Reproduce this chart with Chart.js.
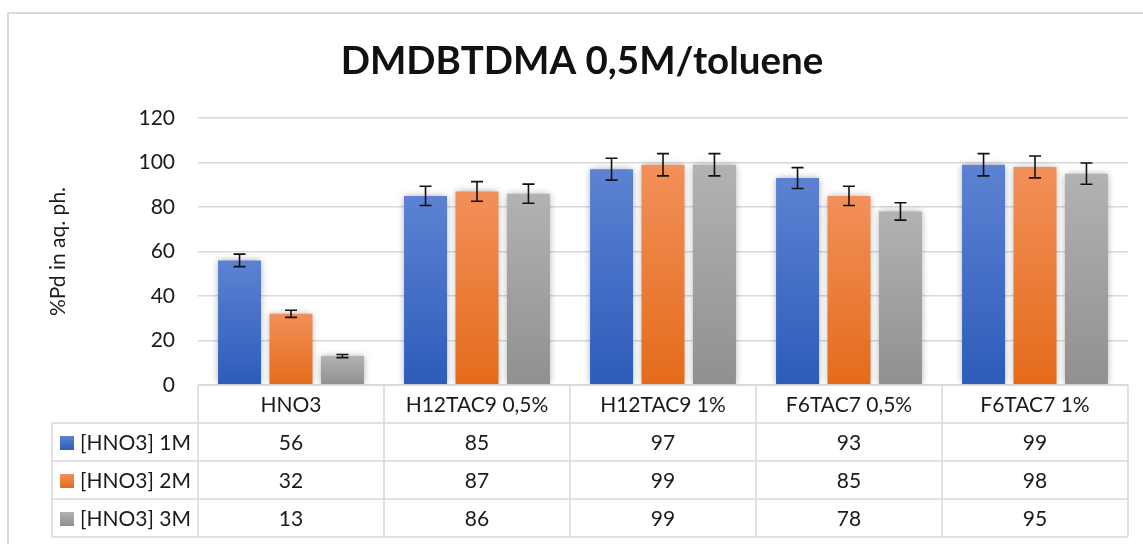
<!DOCTYPE html>
<html>
<head>
<meta charset="utf-8">
<title>DMDBTDMA 0,5M/toluene</title>
<script src="https://cdn.jsdelivr.net/npm/chart.js"></script>
<style>
  html, body { margin: 0; padding: 0; background: #fff; }
  .chart-box { position: relative; width: 1143px; height: 544px; }
</style>
</head>
<body>
<div class="chart-box"><canvas id="chart"></canvas></div>
<script>
// categories, series and values (table below the plot shows the same numbers)
const categories = ['HNO3', 'H12TAC9 0,5%', 'H12TAC9 1%', 'F6TAC7 0,5%', 'F6TAC7 1%'];
const seriesNames = ['[HNO3] 1M', '[HNO3] 2M', '[HNO3] 3M'];
const pd1M = [56, 85, 97, 93, 99];
const pd2M = [32, 87, 99, 85, 98];
const pd3M = [13, 86, 99, 78, 95];
// +/- error for each bar
const err1M = [2.8, 4.3, 4.9, 4.7, 5.0];
const err2M = [1.6, 4.4, 5.0, 4.3, 4.9];
const err3M = [0.7, 4.3, 5.0, 3.9, 4.8];
const yTicks = [0, 20, 40, 60, 80, 100, 120];

const FONT = 'Lato, "Open Sans", sans-serif';
const TEXT = '#1a1a1a';
const GRID = '#d9d9d9';
// top / bottom colours of each series' gradient
const fills = [
  ['#5d82d2', '#2c5cb9'],
  ['#f2905a', '#e46b1a'],
  ['#b2b2b2', '#909090']
];

function barGradient(idx) {
  return (c) => {
    const chart = c.chart;
    if (!chart.chartArea || c.raw === undefined) return fills[idx][1];
    const y = chart.scales.y;
    const top = y.getPixelForValue(c.raw);
    const bottom = y.getPixelForValue(0);
    if (!isFinite(top) || !isFinite(bottom) || top === bottom) return fills[idx][1];
    const g = chart.ctx.createLinearGradient(0, top, 0, bottom);
    g.addColorStop(0, fills[idx][0]);
    g.addColorStop(1, fills[idx][1]);
    return g;
  };
}

// outer frame + title
const framePlugin = {
  id: 'frame',
  beforeDraw(chart) {
    const ctx = chart.ctx;
    ctx.save();
    ctx.strokeStyle = GRID;
    ctx.lineWidth = 2;
    ctx.strokeRect(8, 13, 1160, 600);
    ctx.fillStyle = '#111';
    ctx.font = 'bold 38.5px ' + FONT;
    ctx.textAlign = 'center';
    ctx.textBaseline = 'alphabetic';
    ctx.fillText('DMDBTDMA 0,5M/toluene', 582, 74);
    ctx.restore();
  }
};

// soft shadow around the bars
const shadowPlugin = {
  id: 'barShadow',
  beforeDatasetsDraw(chart) {
    const ctx = chart.ctx;
    ctx.save();
    ctx.shadowColor = 'rgba(0,0,0,0.35)';
    ctx.shadowBlur = 7;
    ctx.shadowOffsetX = 0;
    ctx.shadowOffsetY = 0;
  },
  afterDatasetsDraw(chart) {
    chart.ctx.restore();
  }
};

const errors = [err1M, err2M, err3M];
const errorBarPlugin = {
  id: 'errorBars',
  afterDatasetsDraw(chart) {
    const ctx = chart.ctx;
    const y = chart.scales.y;
    ctx.save();
    ctx.strokeStyle = '#111';
    ctx.lineWidth = 1.6;
    chart.data.datasets.forEach((ds, d) => {
      const meta = chart.getDatasetMeta(d);
      meta.data.forEach((bar, i) => {
        const v = ds.data[i];
        const e = errors[d][i];
        const yHi = y.getPixelForValue(v + e);
        const yLo = y.getPixelForValue(v - e);
        ctx.beginPath();
        ctx.moveTo(bar.x, yHi); ctx.lineTo(bar.x, yLo);
        ctx.moveTo(bar.x - 6, yHi); ctx.lineTo(bar.x + 6, yHi);
        ctx.moveTo(bar.x - 6, yLo); ctx.lineTo(bar.x + 6, yLo);
        ctx.stroke();
      });
    });
    ctx.restore();
  }
};

// data table under the plot area
const tablePlugin = {
  id: 'dataTable',
  afterDraw(chart) {
    const ctx = chart.ctx;
    const area = chart.chartArea;
    const x = chart.scales.x;
    const rowH = 38;
    const top = area.bottom;
    const legendLeft = 52;
    const half = (x.getPixelForValue(1) - x.getPixelForValue(0)) / 2;
    const rows = chart.data.datasets.length;
    const bottom = top + rowH * (rows + 1);

    ctx.save();
    ctx.strokeStyle = GRID;
    ctx.lineWidth = 1.5;
    ctx.beginPath();
    ctx.moveTo(area.left, top); ctx.lineTo(area.right, top);
    for (let r = 1; r <= rows + 1; r++) {
      ctx.moveTo(legendLeft, top + rowH * r); ctx.lineTo(area.right, top + rowH * r);
    }
    ctx.moveTo(legendLeft, top + rowH); ctx.lineTo(legendLeft, bottom);
    for (let i = 0; i <= categories.length; i++) {
      const bx = i < categories.length ? x.getPixelForValue(i) - half : x.getPixelForValue(i - 1) + half;
      ctx.moveTo(bx, top); ctx.lineTo(bx, bottom);
    }
    ctx.stroke();

    ctx.fillStyle = TEXT;
    ctx.font = '21px ' + FONT;
    ctx.textBaseline = 'middle';
    ctx.textAlign = 'center';
    categories.forEach((c, i) => {
      ctx.fillText(c, x.getPixelForValue(i), top + rowH / 2 + 1);
    });
    chart.data.datasets.forEach((ds, d) => {
      const cy = top + rowH * (d + 1) + rowH / 2 + 1;
      ds.data.forEach((v, i) => {
        ctx.fillStyle = TEXT;
        ctx.textAlign = 'center';
        ctx.fillText(String(v), x.getPixelForValue(i), cy);
      });
      const g = ctx.createLinearGradient(0, cy - 7, 0, cy + 7);
      g.addColorStop(0, fills[d][0]);
      g.addColorStop(1, fills[d][1]);
      ctx.fillStyle = g;
      ctx.fillRect(60, cy - 7, 14, 14);
      ctx.fillStyle = TEXT;
      ctx.textAlign = 'left';
      ctx.fillText(ds.label, 80, cy);
    });
    ctx.restore();
  }
};

const ctx = document.getElementById('chart').getContext('2d');
new Chart(ctx, {
  type: 'bar',
  data: {
    labels: categories,
    datasets: [
      { label: seriesNames[0], data: pd1M, backgroundColor: barGradient(0) },
      { label: seriesNames[1], data: pd2M, backgroundColor: barGradient(1) },
      { label: seriesNames[2], data: pd3M, backgroundColor: barGradient(2) }
    ]
  },
  options: {
    responsive: true,
    maintainAspectRatio: false,
    animation: false,
    categoryPercentage: 0.83,
    barPercentage: 0.835,
    layout: { padding: { top: 118, bottom: 159, left: 40, right: 15 } },
    plugins: {
      legend: { display: false },
      title: { display: false },
      tooltip: { enabled: false }
    },
    scales: {
      x: { display: false },
      y: {
        min: 0,
        max: 120,
        afterBuildTicks(scale) { scale.ticks = yTicks.map(v => ({ value: v })); },
        afterFit(scale) { scale.width = 158; },
        border: { display: false },
        grid: { color: GRID, lineWidth: 1.5, drawTicks: false },
        ticks: { padding: 23, color: TEXT, font: { family: FONT, size: 21 } },
        title: {
          display: true,
          text: '%Pd in aq. ph.',
          color: TEXT,
          font: { family: FONT, size: 21 },
          padding: { top: 6 }
        }
      }
    }
  },
  plugins: [framePlugin, shadowPlugin, errorBarPlugin, tablePlugin]
});
</script>
</body>
</html>
